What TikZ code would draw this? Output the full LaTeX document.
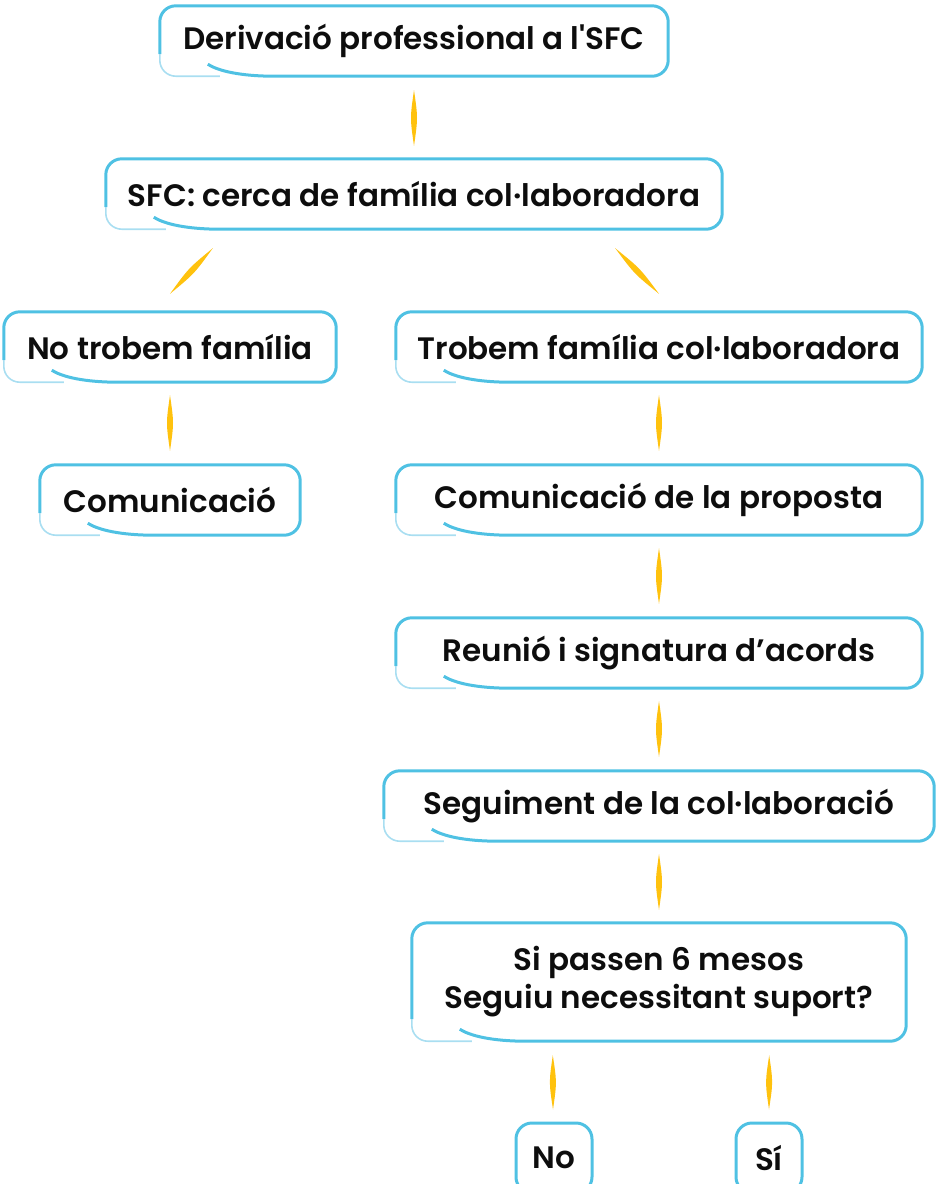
\documentclass[tikz,border=0pt]{standalone}
\usepackage{fontspec}
\setmainfont{Poppins}[BoldFont={Poppins SemiBold}]
\usetikzlibrary{calc}
\definecolor{bblue}{HTML}{4FC1E3}
\definecolor{lblue}{HTML}{A9DEF1}
\definecolor{yel}{HTML}{FFC20E}
\tikzset{
  box/.style={inner sep=0pt, minimum height=70pt, font=\fontsize{31}{38}\selectfont\bfseries, text=black!95, align=center},
  smallbox/.style={box, draw=bblue, line width=3pt, rounded corners=16pt, minimum height=70pt},
}
\newcommand\bubble[1]{%
  \draw[bblue, line width=3pt, rounded corners=16pt]
    ($(#1.south west)+(48,-12)$) .. controls ($(#1.south west)+(62,-3)$) and ($(#1.south west)+(90,0)$) .. ($(#1.south west)+(130,0)$)
    -- (#1.south east) -- (#1.north east) -- (#1.north west) -- ($(#1.south west)+(0,-22)$);
  \draw[lblue, line width=1.6pt, rounded corners=16pt]
    ($(#1.south west)+(0,-22)$) -- (#1.south west) -- ($(#1.south west)+(60,0)$);
}
\newcommand\spindle[2]{%
  \fill[yel] (#1) .. controls ($(#1)!0.5!(#2)!4pt!90:(#2)$) .. (#2)
    .. controls ($(#1)!0.5!(#2)!4pt!-90:(#2)$) .. (#1);
}
\begin{document}
\begin{tikzpicture}[x=1pt, y=-1pt]
\useasboundingbox (0,0) rectangle (936,1184);
\node[box, minimum width=508pt] (n1) at (414,41) {Derivació professional a l\textquotesingle SFC};
\node[box, minimum width=616pt] (n2) at (414,194) {SFC: cerca de família col·laboradora};
\node[box, minimum width=332pt] (n3) at (170,347) {No trobem família};
\node[box, minimum width=526pt] (n4) at (659,347) {Trobem família col·laboradora};
\node[box, minimum width=260pt] (n5) at (170,500) {Comunicació};
\node[box, minimum width=526pt] (n6) at (659,500) {Comunicació de la proposta};
\node[box, minimum width=526pt] (n7) at (659,653) {Reunió i signatura d’acords};
\node[box, minimum width=550pt] (n8) at (659,806) {Seguiment de la col·laboració};
\node[box, minimum width=494pt, minimum height=118pt] (n9) at (659,982) {Si passen 6 mesos\\Seguiu necessitant suport?};
\node[smallbox, minimum width=76pt] (no) at (554,1158) {No};
\node[smallbox, minimum width=66pt] (si) at (769,1158) {Sí};
\foreach \n in {n1,n2,n3,n4,n5,n6,n7,n8,n9} {\bubble{\n}}
% connector end points
\coordinate (a1) at ($(n1.south)+(0,14)$);
\coordinate (b1) at ($(n2.north)+(0,-13)$);
\coordinate (a2) at ($(n2.south west)+(107,19)$);
\coordinate (b2) at ($(n3.north)+(0,-18)$);
\coordinate (a3) at ($(n2.south east)+(-107,19)$);
\coordinate (b3) at ($(n4.north)+(0,-18)$);
\coordinate (a4) at ($(n3.south)+(0,13)$);
\coordinate (b4) at ($(n5.north)+(0,-14)$);
\coordinate (a5) at ($(n4.south)+(0,13)$);
\coordinate (b5) at ($(n6.north)+(0,-14)$);
\coordinate (a6) at ($(n6.south)+(0,13)$);
\coordinate (b6) at ($(n7.north)+(0,-14)$);
\coordinate (a7) at ($(n7.south)+(0,13)$);
\coordinate (b7) at ($(n8.north)+(0,-14)$);
\coordinate (a8) at ($(n8.south)+(0,13)$);
\coordinate (b8) at ($(n9.north)+(0,-13)$);
\coordinate (a9) at ($(n9.south west)+(141,14)$);
\coordinate (b9) at ($(no.north)+(-1,-12)$);
\coordinate (a10) at ($(n9.south east)+(-137,14)$);
\coordinate (b10) at ($(si.north)+(0,-12)$);
\spindle{a1}{b1}
\spindle{a2}{b2}
\spindle{a3}{b3}
\spindle{a4}{b4}
\spindle{a5}{b5}
\spindle{a6}{b6}
\spindle{a7}{b7}
\spindle{a8}{b8}
\spindle{a9}{b9}
\spindle{a10}{b10}
\end{tikzpicture}
\end{document}
